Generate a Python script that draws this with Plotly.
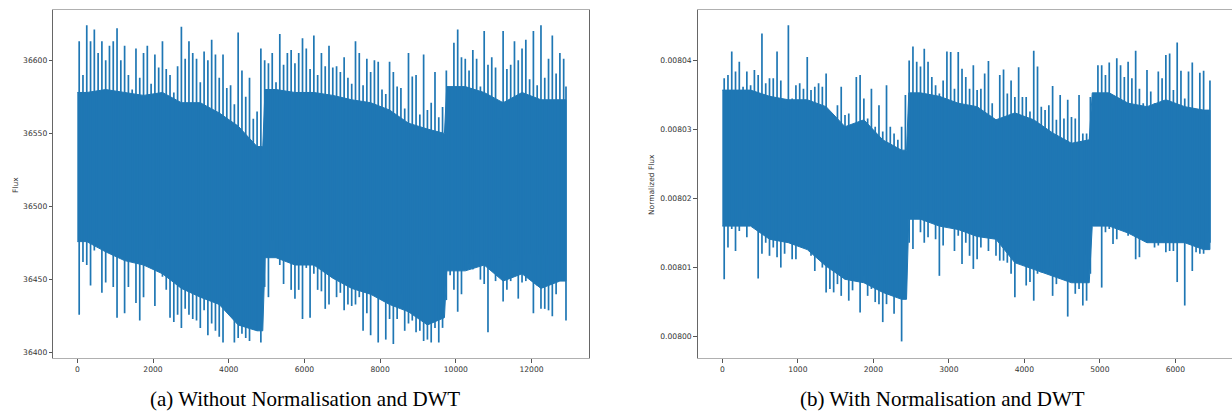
import plotly.graph_objects as go

W, H = 1232, 412
BLUE = "#1f77b4"

# ---------------- data ----------------
# Left panel: raw flux. Extreme values (max / min) of every block of 100 samples
left_n = 12912
left_step = 100
left_hi = [36613, 36590, 36624, 36613, 36621, 36605, 36613, 36600, 36610, 36613,
           36622, 36600, 36610, 36590, 36580, 36608, 36588, 36605, 36610, 36584,
           36604, 36595, 36613, 36594, 36590, 36578, 36596, 36623, 36601, 36613,
           36605, 36601, 36585, 36606, 36600, 36614, 36604, 36588, 36604, 36581,
           36583, 36570, 36619, 36593, 36575, 36588, 36560, 36565, 36608, 36600,
           36598, 36605, 36585, 36618, 36597, 36605, 36607, 36598, 36605, 36615,
           36608, 36594, 36617, 36590, 36605, 36596, 36610, 36595, 36596, 36592,
           36602, 36588, 36584, 36613, 36605, 36583, 36601, 36592, 36600, 36599,
           36580, 36577, 36599, 36592, 36582, 36581, 36567, 36605, 36589, 36590,
           36563, 36604, 36566, 36571, 36592, 36561, 36568, 36593, 36580, 36612,
           36621, 36602, 36601, 36593, 36607, 36601, 36582, 36620, 36597, 36602,
           36595, 36560, 36620, 36594, 36597, 36613, 36600, 36608, 36614, 36587,
           36620, 36583, 36624, 36588, 36601, 36617, 36591, 36605, 36601, 36582]
left_lo = [36426, 36462, 36460, 36446, 36470, 36478, 36441, 36448, 36481, 36445,
           36424, 36468, 36427, 36445, 36462, 36434, 36422, 36438, 36466, 36481,
           36432, 36471, 36452, 36443, 36424, 36421, 36426, 36417, 36430, 36426,
           36423, 36422, 36417, 36429, 36412, 36420, 36415, 36411, 36407, 36438,
           36431, 36407, 36410, 36413, 36410, 36408, 36422, 36415, 36407, 36445,
           36438, 36477, 36466, 36460, 36447, 36477, 36443, 36437, 36443, 36423,
           36458, 36424, 36454, 36443, 36442, 36430, 36433, 36468, 36438, 36441,
           36429, 36433, 36432, 36433, 36438, 36415, 36427, 36412, 36447, 36407,
           36449, 36409, 36423, 36406, 36423, 36440, 36415, 36420, 36422, 36414,
           36415, 36408, 36409, 36407, 36417, 36407, 36417, 36436, 36453, 36443,
           36428, 36440, 36457, 36461, 36457, 36468, 36450, 36447, 36414, 36457,
           36449, 36465, 36435, 36443, 36449, 36463, 36437, 36448, 36449, 36468,
           36427, 36446, 36430, 36430, 36429, 36425, 36440, 36455, 36462, 36422]
# dense core of the trace (where the blue is solid), read at these sample indices
left_core_x = [0, 250, 750, 1250, 1750, 2250, 2750, 3250, 3750, 4250, 4750, 4900,
               4960, 5250, 5750, 6250, 6750, 7250, 7750, 8250, 8750, 9250, 9700,
               9760, 10250, 10750, 11250, 11750, 12250, 12750, 12911]
left_core_hi = [36578, 36578, 36580, 36578, 36576, 36578, 36571, 36571, 36564, 36555, 36541, 36541,
                36580, 36580, 36578, 36578, 36576, 36573, 36571, 36566, 36557, 36553, 36550,
                36582, 36582, 36578, 36571, 36578, 36573, 36573, 36573]
left_core_lo = [36476, 36476, 36469, 36463, 36460, 36454, 36444, 36438, 36433, 36419, 36415, 36415,
                36465, 36465, 36460, 36460, 36451, 36444, 36440, 36433, 36428, 36419, 36424,
                36456, 36456, 36460, 36449, 36454, 36444, 36449, 36449]

# Right panel: normalised flux (units of 1e-5). Extremes of every block of 50 samples
right_n = 6460
right_step = 50
right_hi_e5 = [803.74, 803.79, 804.13, 803.84, 803.98, 803.62, 803.84, 803.64, 803.86, 803.79,
               804.39, 803.67, 803.74, 803.74, 804.13, 803.71, 803.30, 804.51, 803.45, 803.64,
               803.67, 803.59, 804.05, 803.57, 803.62, 803.67, 803.62, 803.81, 803.18, 803.21,
               803.35, 803.62, 803.21, 803.23, 802.99, 803.76, 803.79, 803.45, 803.16, 803.59,
               803.04, 803.35, 802.97, 803.64, 803.04, 802.94, 802.85, 803.04, 803.50, 804.00,
               804.20, 803.98, 803.91, 804.17, 803.98, 803.76, 803.64, 803.52, 803.71, 804.13,
               804.12, 803.59, 804.12, 803.88, 803.76, 803.59, 803.93, 803.57, 803.59, 803.81,
               803.99, 803.38, 803.06, 803.79, 803.87, 803.52, 803.71, 803.47, 803.90, 803.47,
               803.47, 803.26, 804.14, 803.91, 803.33, 803.28, 803.35, 803.63, 803.14, 803.50,
               803.16, 803.43, 803.18, 803.16, 803.50, 802.94, 802.94, 803.47, 803.52, 803.93,
               803.93, 803.79, 803.97, 803.30, 804.03, 803.93, 803.76, 803.98, 803.74, 804.14,
               803.59, 803.38, 803.86, 803.55, 803.38, 803.84, 803.74, 804.08, 804.10, 803.57,
               804.26, 803.85, 803.45, 803.84, 803.97, 803.28, 803.82, 803.85, 803.21, 803.71]
right_lo_e5 = [800.83, 801.29, 801.56, 801.24, 801.53, 801.85, 801.44, 801.73, 801.63, 800.84,
               801.20, 801.36, 801.17, 801.29, 801.15, 801.00, 801.20, 801.51, 801.12, 801.12,
               801.48, 801.29, 801.53, 801.17, 800.95, 801.15, 801.00, 800.64, 800.69, 800.64,
               800.76, 800.59, 800.83, 800.52, 800.67, 800.86, 800.35, 800.88, 800.59, 800.69,
               800.50, 800.47, 800.21, 800.47, 800.62, 800.33, 800.59, 799.93, 800.59, 801.36,
               801.27, 801.85, 801.51, 801.36, 801.44, 801.80, 801.41, 800.88, 801.32, 801.63,
               801.66, 801.24, 801.46, 801.05, 801.36, 801.17, 800.98, 801.12, 801.29, 801.56,
               801.24, 801.58, 801.17, 801.10, 801.10, 801.07, 800.91, 800.57, 801.24, 801.07,
               800.74, 800.79, 800.52, 800.91, 800.93, 800.98, 801.00, 800.59, 800.76, 800.93,
               800.83, 800.29, 800.88, 800.62, 800.69, 800.45, 800.52, 800.91, 801.68, 801.80,
               800.71, 801.51, 801.56, 801.34, 801.41, 801.56, 801.56, 801.46, 801.56, 801.12,
               801.15, 801.41, 801.36, 801.41, 801.29, 801.32, 801.46, 801.22, 801.24, 801.24,
               800.79, 801.46, 800.45, 801.41, 800.95, 801.22, 801.20, 801.20, 801.51, 801.36]
right_core_x = [0, 125, 375, 625, 875, 1125, 1375, 1625, 1875, 2125, 2375, 2440,
                2470, 2625, 2875, 3125, 3375, 3625, 3875, 4125, 4375, 4625, 4860,
                4900, 5125, 5375, 5625, 5875, 6125, 6375, 6459]
right_core_hi_e5 = [803.57, 803.57, 803.57, 803.48, 803.43, 803.43, 803.33, 803.04, 803.14, 802.85,
                    802.70, 802.70, 803.53, 803.53, 803.48, 803.38, 803.33, 803.14, 803.24, 803.14,
                    802.95, 802.80, 802.85, 803.53, 803.53, 803.38, 803.33, 803.43, 803.33, 803.28,
                    803.28]
right_core_lo_e5 = [801.60, 801.60, 801.60, 801.41, 801.36, 801.26, 801.02, 800.83, 800.78, 800.64,
                    800.54, 800.54, 801.70, 801.70, 801.60, 801.55, 801.45, 801.41, 801.07, 800.97,
                    800.88, 800.78, 800.78, 801.60, 801.60, 801.50, 801.36, 801.36, 801.36, 801.26,
                    801.26]

right_hi = [v * 1e-5 for v in right_hi_e5]
right_lo = [v * 1e-5 for v in right_lo_e5]
right_core_hi = [v * 1e-5 for v in right_core_hi_e5]
right_core_lo = [v * 1e-5 for v in right_core_lo_e5]

left_xticks = [0, 2000, 4000, 6000, 8000, 10000, 12000]
left_yticks = [36400, 36450, 36500, 36550, 36600]
right_xticks = [0, 1000, 2000, 3000, 4000, 5000, 6000]
right_yticks = [0.00800, 0.00801, 0.00802, 0.00803, 0.00804]

left_caption = "(a) Without Normalisation and DWT"
right_caption = "(b) With Normalisation and DWT"
left_ylabel = "Flux"
right_ylabel = "Normalized Flux"


def core(cx, top, bot):
    """Closed outline of the solid core of the trace."""
    xs = list(cx) + list(cx)[::-1]
    ys = list(top) + list(bot)[::-1]
    return xs, ys


def spikes(hi, lo, step, n):
    """One vertical stroke per block, from its minimum to its maximum."""
    xs, ys = [], []
    for k in range(len(hi)):
        xc = min(k * step + step / 2, n - 1)
        xs += [xc, xc, None]
        ys += [lo[k], hi[k], None]
    return xs, ys


fig = go.Figure()
for (hi, lo, st, ccx, chi, clo, n, xa, ya) in [
        (left_hi, left_lo, left_step, left_core_x, left_core_hi, left_core_lo, left_n, "x", "y"),
        (right_hi, right_lo, right_step, right_core_x, right_core_hi, right_core_lo, right_n, "x2", "y2")]:
    px, py = core(ccx, chi, clo)
    fig.add_trace(go.Scatter(x=px, y=py, mode="lines", fill="toself", fillcolor=BLUE,
                             line=dict(color=BLUE, width=1), xaxis=xa, yaxis=ya,
                             hoverinfo="skip"))
    sx, sy = spikes(hi, lo, st, n)
    fig.add_trace(go.Scatter(x=sx, y=sy, mode="lines", line=dict(color=BLUE, width=1.7),
                             xaxis=xa, yaxis=ya, hoverinfo="skip"))

tickfont = dict(family="DejaVu Sans", size=7.6, color="#333333")
common = dict(showgrid=False, zeroline=False, showline=True, ticks="outside",
              ticklen=3.5, tickwidth=0.8, tickcolor="#555555", tickfont=tickfont)

y_dom = [1 - 358 / H, 1 - 10 / H]
fig.update_layout(
    width=W, height=H, margin=dict(l=0, r=0, t=0, b=0),
    paper_bgcolor="white", plot_bgcolor="white", showlegend=False,
    xaxis=dict(domain=[53.3 / W, 589 / W], range=[-634, 13519], tickvals=left_xticks,
               tickformat="d", anchor="y", mirror=True, linecolor="#b0b0b0", linewidth=1, **common),
    yaxis=dict(domain=y_dom, range=[36396.4, 36634.4], tickvals=left_yticks, tickformat="d",
               anchor="x", mirror=True, linecolor="#666666", linewidth=1, **common),
    xaxis2=dict(domain=[697.7 / W, 1.0], range=[-326, 6751], tickvals=right_xticks,
                tickformat="d", anchor="y2", mirror=True, linecolor="#b0b0b0", linewidth=1, **common),
    yaxis2=dict(domain=y_dom, range=[0.0079969, 0.0080473], tickvals=right_yticks,
                tickformat=".5f", anchor="x2", linecolor="#666666", linewidth=1, **common),
)

lab_font = dict(family="DejaVu Sans", size=7.5, color="#333333")
fig.add_annotation(x=15 / W, y=1 - 185 / H, xref="paper", yref="paper", text=left_ylabel,
                   textangle=-90, showarrow=False, xanchor="center", yanchor="middle", font=lab_font)
fig.add_annotation(x=651 / W, y=1 - 185 / H, xref="paper", yref="paper", text=right_ylabel,
                   textangle=-90, showarrow=False, xanchor="center", yanchor="middle", font=lab_font)
cap_font = dict(family="Liberation Serif", size=21, color="black")
fig.add_annotation(x=305 / W, y=1 - 399 / H, xref="paper", yref="paper", text=left_caption,
                   showarrow=False, xanchor="center", yanchor="middle", font=cap_font)
fig.add_annotation(x=942 / W, y=1 - 399 / H, xref="paper", yref="paper", text=right_caption,
                   showarrow=False, xanchor="center", yanchor="middle", font=cap_font)

fig.write_html("out.html")
